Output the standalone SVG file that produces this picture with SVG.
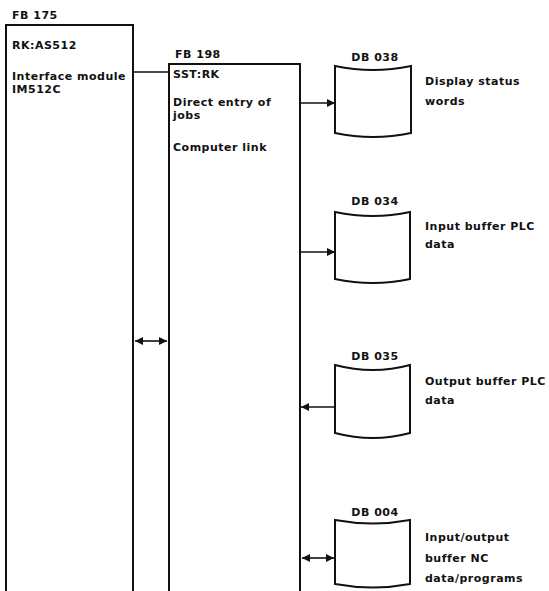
<svg xmlns="http://www.w3.org/2000/svg" width="549" height="591" viewBox="0 0 549 591">
<style>
.t{font-family:"DejaVu Sans","Open Sans",sans-serif;font-size:11px;font-weight:bold;letter-spacing:0.5px;fill:#111}
.b{fill:none;stroke:#111;stroke-width:2}
.c{fill:none;stroke:#111;stroke-width:1.6}
</style>
<defs>
<marker id="ah" viewBox="0 0 10 10" refX="10" refY="5" markerWidth="10" markerHeight="8" markerUnits="userSpaceOnUse" orient="auto-start-reverse">
<path d="M0,0 L10,5 L0,10 Z" fill="#111"/>
</marker>
</defs>
<g id="fb175">
<path class="b" d="M6,591 V25 H133 V591"/>
<text class="t" x="12" y="19">FB 175</text>
<text class="t" x="12" y="49">RK:AS512</text>
<text class="t" x="12" y="80">Interface module</text>
<text class="t" x="12" y="93">IM512C</text>
</g>
<g id="fb198">
<path class="b" d="M169,591 V64 H300 V591"/>
<text class="t" x="175" y="58">FB 198</text>
<text class="t" x="173" y="78">SST:RK</text>
<text class="t" x="173" y="106">Direct entry of</text>
<text class="t" x="173" y="119">jobs</text>
<text class="t" x="173" y="151">Computer link</text>
</g>
<g id="db038">
<path class="b" d="M335,66 Q373,74 411,66 V133 Q373,141 335,133 Z"/>
<text class="t" x="375" y="61" text-anchor="middle">DB 038</text>
<text class="t" x="425" y="85">Display status</text>
<text class="t" x="425" y="105">words</text>
</g>
<g id="db034">
<path class="b" d="M335,212 Q373,220 410,212 V279 Q373,287 335,279 Z"/>
<text class="t" x="375" y="205" text-anchor="middle">DB 034</text>
<text class="t" x="425" y="230">Input buffer PLC</text>
<text class="t" x="425" y="248">data</text>
</g>
<g id="db035">
<path class="b" d="M335,365 Q373,375 410,365 V433 Q373,443 335,433 Z"/>
<text class="t" x="375" y="360" text-anchor="middle">DB 035</text>
<text class="t" x="425" y="385">Output buffer PLC</text>
<text class="t" x="425" y="404">data</text>
</g>
<g id="db004">
<path class="b" d="M335,520 Q373,527 410,520 V584 Q373,591 335,584 Z"/>
<text class="t" x="375" y="516" text-anchor="middle">DB 004</text>
<text class="t" x="425" y="541">Input/output</text>
<text class="t" x="425" y="562">buffer NC</text>
<text class="t" x="425" y="582">data/programs</text>
</g>
<g id="connectors">
<path class="c" d="M133,72 H169"/>
<path class="c" d="M135,341 H167" marker-start="url(#ah)" marker-end="url(#ah)"/>
<path class="c" d="M300,103 H335" marker-end="url(#ah)"/>
<path class="c" d="M300,252 H335" marker-end="url(#ah)"/>
<path class="c" d="M335,407 H301" marker-end="url(#ah)"/>
<path class="c" d="M302,558 H334" marker-start="url(#ah)" marker-end="url(#ah)"/>
</g>
</svg>
